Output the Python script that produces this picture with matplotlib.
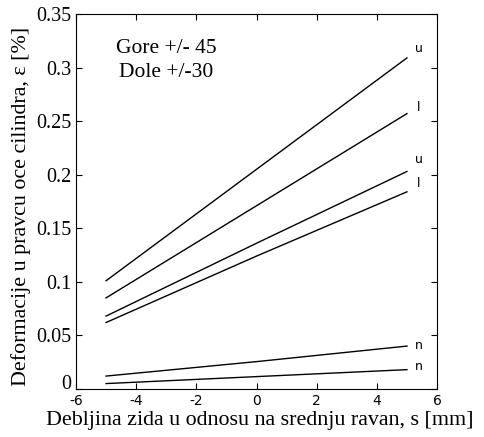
import matplotlib
matplotlib.use("Agg")
import matplotlib.pyplot as plt

plt.rcParams["axes.unicode_minus"] = False

s = [-5, 0, 5]
gore_u = [0.101, 0.205, 0.309]
gore_l = [0.085, 0.171, 0.257]
dole_u = [0.068, 0.136, 0.203]
dole_l = [0.062, 0.124, 0.184]
gore_n = [0.012, 0.0255, 0.040]
dole_n = [0.005, 0.0115, 0.018]

oznake = ["u", "l", "u", "l", "n", "n"]
oznake_y = [0.318, 0.263, 0.214, 0.192, 0.041, 0.021]

fig = plt.figure(figsize=(4.84, 4.37), dpi=100)
ax = fig.add_axes([0.157, 0.110, 0.746, 0.858])

for serija in [gore_u, gore_l, dole_u, dole_l, gore_n, dole_n]:
    ax.plot(s, serija, color="black", linewidth=1.0)

for o, y in zip(oznake, oznake_y):
    ax.text(5.4, y, o, fontsize=9, family="DejaVu Sans", ha="center", va="center")

ax.text(-3.0, 0.318, "Gore +/- 45", fontsize=15.5, family="Liberation Serif", ha="center", va="center")
ax.text(-3.0, 0.295, "Dole +/-30", fontsize=15.5, family="Liberation Serif", ha="center", va="center")

ax.set_xlim(-6, 6)
ax.set_ylim(0, 0.35)
ax.set_xticks([-6, -4, -2, 0, 2, 4, 6])
ax.set_yticks([0, 0.05, 0.1, 0.15, 0.2, 0.25, 0.3, 0.35])
ax.set_yticklabels(["0", "0.05", "0.1", "0.15", "0.2", "0.25", "0.3", "0.35"])
ax.tick_params(direction="in", top=True, right=True, length=4, width=0.8)
for lab in ax.get_xticklabels():
    lab.set_family("DejaVu Sans")
    lab.set_fontsize(10)
for lab in ax.get_yticklabels():
    lab.set_family("Liberation Serif")
    lab.set_fontsize(14.5)
# nula je malo podignuta, kao u originalu
ax.get_yticklabels()[0].set_verticalalignment("baseline")

ax.set_xlabel("Debljina zida u odnosu na srednju ravan, s [mm]", fontsize=15.8, family="Liberation Serif")
ax.set_ylabel("Deformacije u pravcu oce cilindra, ε [%]", fontsize=15.8, family="Liberation Serif")
ax.xaxis.set_label_coords(0.51, -0.058)
ax.yaxis.set_label_coords(-0.125, 0.488)

fig.savefig("out.png", dpi=100)
